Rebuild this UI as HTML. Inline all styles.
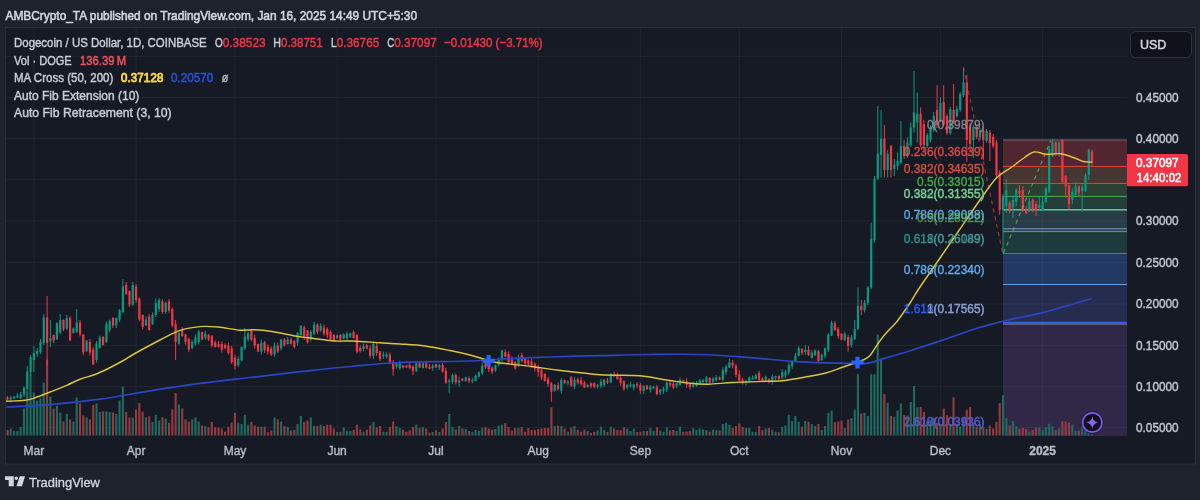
<!DOCTYPE html><html><head><meta charset="utf-8"><title>DOGEUSD</title><style>
html,body{margin:0;padding:0;background:#1e222d;}
body{width:1200px;height:500px;overflow:hidden;position:relative;font-family:"Liberation Sans",Arial,sans-serif;}
svg{position:absolute;left:0;top:0;display:block}
text{font-family:"Liberation Sans",Arial,sans-serif}
</style></head><body>
<svg width="1200" height="500" viewBox="0 0 1200 500">
<text x="5.5" y="19.6" font-size="13" fill="#d1d4dc" stroke="#d1d4dc" stroke-width="0.6" textLength="411.5" lengthAdjust="spacingAndGlyphs">AMBCrypto_TA published on TradingView.com, Jan 16, 2025 14:49 UTC+5:30</text>
<rect x="5.5" y="27.5" width="1190" height="436.5" fill="#161a25" stroke="#2a2e39" stroke-width="1"/>
<path d="M6 56.4H1127M6 97.6H1127M6 138.5H1127M6 179.6H1127M6 221H1127M6 262.4H1127M6 304H1127M6 345.4H1127M6 386.6H1127M6 427.6H1127M33.9 28V436M136.1 28V436M235 28V436M337.1 28V436M436 28V436M538.2 28V436M640.4 28V436M739.3 28V436M841.5 28V436M940.4 28V436M1042.6 28V436" stroke="#21252f" stroke-width="1" fill="none"/>
<rect x="1003" y="140" width="124" height="26.4" fill="#51262e"/>
<rect x="1003" y="166.4" width="124" height="17" fill="#463531"/>
<rect x="1003" y="183.4" width="124" height="13" fill="#2b3f33"/>
<rect x="1003" y="196.4" width="124" height="13.4" fill="#243f3a"/>
<rect x="1003" y="209.8" width="124" height="19" fill="#293d47"/>
<rect x="1003" y="228.8" width="124" height="2.8" fill="#2c4350"/>
<rect x="1003" y="231.6" width="124" height="21.9" fill="#1f3a3c"/>
<rect x="1003" y="253.5" width="124" height="31" fill="#223a63"/>
<rect x="1003" y="284.5" width="124" height="38.1" fill="#262c4e"/>
<rect x="1003" y="322.6" width="124" height="113.4" fill="#312848"/>
<path d="M1003 140H1127" stroke="#6a6d78" stroke-width="1"/>
<path d="M1003 166.4H1127" stroke="#e0483f" stroke-width="1"/>
<path d="M1003 183.4H1127" stroke="#d4503f" stroke-width="1"/>
<path d="M1003 196.4H1127" stroke="#4caf50" stroke-width="1"/>
<path d="M1003 209.8H1127" stroke="#5cc9a0" stroke-width="1.6"/>
<path d="M1003 228.8H1127" stroke="#6fa0c0" stroke-width="1"/>
<path d="M1003 231.6H1127" stroke="#7a9f3c" stroke-width="1"/>
<path d="M1003 253.5H1127" stroke="#139a90" stroke-width="1"/>
<path d="M1003 284.5H1127" stroke="#64a0e6" stroke-width="1"/>
<path d="M1003 322.3H1127" stroke="#3a5fe0" stroke-width="1.2"/>
<path d="M1003 324H1127" stroke="#8a87a0" stroke-width="1"/>
<path d="M1003 179.6H1127M1003 221H1127M1003 262.4H1127M1003 304H1127M1003 345.4H1127M1003 386.6H1127M1003 427.6H1127M1042.6 140V436" stroke="#ffffff" stroke-opacity="0.045" stroke-width="1" fill="none"/>
<path d="M9.7 428.6h2.1V435.6h-2.1zM13 431.1h2.1V435.6h-2.1zM16.3 431.1h2.1V435.6h-2.1zM19.6 426.9h2.1V435.6h-2.1zM22.9 408.6h2.1V435.6h-2.1zM26.2 390.6h2.1V435.6h-2.1zM29.5 374.6h2.1V435.6h-2.1zM32.8 392.6h2.1V435.6h-2.1zM36.1 400.6h2.1V435.6h-2.1zM39.4 398.6h2.1V435.6h-2.1zM42.7 382.6h2.1V435.6h-2.1zM49.3 396.6h2.1V435.6h-2.1zM55.9 406.1h2.1V435.6h-2.1zM59.2 412.6h2.1V435.6h-2.1zM65.8 413.9h2.1V435.6h-2.1zM72.4 421.6h2.1V435.6h-2.1zM75.7 397.6h2.1V435.6h-2.1zM85.6 417.6h2.1V435.6h-2.1zM95.5 403.6h2.1V435.6h-2.1zM98.8 411.9h2.1V435.6h-2.1zM105.3 411.6h2.1V435.6h-2.1zM108.6 411.9h2.1V435.6h-2.1zM115.2 413.9h2.1V435.6h-2.1zM118.5 400.6h2.1V435.6h-2.1zM121.8 386.6h2.1V435.6h-2.1zM131.7 417.6h2.1V435.6h-2.1zM144.9 417.3h2.1V435.6h-2.1zM151.5 421.9h2.1V435.6h-2.1zM154.8 414.8h2.1V435.6h-2.1zM158.1 420.6h2.1V435.6h-2.1zM164.7 418.6h2.1V435.6h-2.1zM177.9 404.6h2.1V435.6h-2.1zM191.1 419.6h2.1V435.6h-2.1zM194.4 417.6h2.1V435.6h-2.1zM197.6 421.6h2.1V435.6h-2.1zM204.2 426.1h2.1V435.6h-2.1zM237.2 422.8h2.1V435.6h-2.1zM240.5 423.9h2.1V435.6h-2.1zM243.8 414.8h2.1V435.6h-2.1zM247.1 424.8h2.1V435.6h-2.1zM260.3 426.8h2.1V435.6h-2.1zM273.5 417.6h2.1V435.6h-2.1zM280.1 421.4h2.1V435.6h-2.1zM286.7 426.8h2.1V435.6h-2.1zM296.5 423.9h2.1V435.6h-2.1zM299.8 416.1h2.1V435.6h-2.1zM309.7 417.6h2.1V435.6h-2.1zM313 426.1h2.1V435.6h-2.1zM319.6 424.8h2.1V435.6h-2.1zM336.1 431.9h2.1V435.6h-2.1zM342.7 427.8h2.1V435.6h-2.1zM346 430.9h2.1V435.6h-2.1zM349.3 430.9h2.1V435.6h-2.1zM362.5 431.8h2.1V435.6h-2.1zM372.4 421.9h2.1V435.6h-2.1zM382.3 431.8h2.1V435.6h-2.1zM385.5 431.8h2.1V435.6h-2.1zM395.4 425.9h2.1V435.6h-2.1zM398.7 428.1h2.1V435.6h-2.1zM415.2 424.8h2.1V435.6h-2.1zM421.8 427.3h2.1V435.6h-2.1zM431.7 431.9h2.1V435.6h-2.1zM438.3 431.9h2.1V435.6h-2.1zM448.2 413.9h2.1V435.6h-2.1zM451.5 426.9h2.1V435.6h-2.1zM458.1 426.1h2.1V435.6h-2.1zM464.7 428.9h2.1V435.6h-2.1zM471.3 431.8h2.1V435.6h-2.1zM474.6 430.1h2.1V435.6h-2.1zM477.8 430.9h2.1V435.6h-2.1zM481.1 427.8h2.1V435.6h-2.1zM494.3 428.9h2.1V435.6h-2.1zM497.6 425.6h2.1V435.6h-2.1zM500.9 424.8h2.1V435.6h-2.1zM517.4 428.1h2.1V435.6h-2.1zM553.7 426.1h2.1V435.6h-2.1zM560.3 426.1h2.1V435.6h-2.1zM566.9 431.8h2.1V435.6h-2.1zM573.4 426.1h2.1V435.6h-2.1zM586.6 431.1h2.1V435.6h-2.1zM596.5 430.6h2.1V435.6h-2.1zM599.8 426.8h2.1V435.6h-2.1zM603.1 430.1h2.1V435.6h-2.1zM609.7 426.8h2.1V435.6h-2.1zM626.2 428.6h2.1V435.6h-2.1zM629.5 430.9h2.1V435.6h-2.1zM632.8 428.6h2.1V435.6h-2.1zM642.7 430.9h2.1V435.6h-2.1zM649.3 427.8h2.1V435.6h-2.1zM652.6 430.9h2.1V435.6h-2.1zM659.2 430.6h2.1V435.6h-2.1zM662.5 431.8h2.1V435.6h-2.1zM665.8 427.3h2.1V435.6h-2.1zM675.6 430.9h2.1V435.6h-2.1zM678.9 426.8h2.1V435.6h-2.1zM692.1 428.1h2.1V435.6h-2.1zM695.4 430.1h2.1V435.6h-2.1zM698.7 428.6h2.1V435.6h-2.1zM702 429.4h2.1V435.6h-2.1zM705.3 430.1h2.1V435.6h-2.1zM711.9 429.4h2.1V435.6h-2.1zM715.2 430.1h2.1V435.6h-2.1zM721.8 423.9h2.1V435.6h-2.1zM725.1 422.8h2.1V435.6h-2.1zM728.4 424.8h2.1V435.6h-2.1zM744.9 428.1h2.1V435.6h-2.1zM748.2 428.1h2.1V435.6h-2.1zM751.5 431.8h2.1V435.6h-2.1zM754.8 431.8h2.1V435.6h-2.1zM764.6 428.6h2.1V435.6h-2.1zM771.2 429.8h2.1V435.6h-2.1zM774.5 431.8h2.1V435.6h-2.1zM781.1 426.9h2.1V435.6h-2.1zM784.4 425.6h2.1V435.6h-2.1zM787.7 414.8h2.1V435.6h-2.1zM791 420.9h2.1V435.6h-2.1zM794.3 416.1h2.1V435.6h-2.1zM797.6 421.8h2.1V435.6h-2.1zM804.2 420.9h2.1V435.6h-2.1zM810.8 423.9h2.1V435.6h-2.1zM814.1 426.1h2.1V435.6h-2.1zM820.7 430.1h2.1V435.6h-2.1zM824 426.1h2.1V435.6h-2.1zM827.3 412.8h2.1V435.6h-2.1zM830.6 410.6h2.1V435.6h-2.1zM843.8 428.1h2.1V435.6h-2.1zM850.4 418.1h2.1V435.6h-2.1zM853.7 409.8h2.1V435.6h-2.1zM856.9 374.3h2.1V435.6h-2.1zM863.5 412.8h2.1V435.6h-2.1zM866.8 415.9h2.1V435.6h-2.1zM870.1 374.3h2.1V435.6h-2.1zM873.4 374.3h2.1V435.6h-2.1zM876.7 334.6h2.1V435.6h-2.1zM880 358.6h2.1V435.6h-2.1zM886.6 402.8h2.1V435.6h-2.1zM893.2 416.8h2.1V435.6h-2.1zM896.5 410.6h2.1V435.6h-2.1zM899.8 403.4h2.1V435.6h-2.1zM906.4 415.6h2.1V435.6h-2.1zM909.7 401.9h2.1V435.6h-2.1zM913 385.9h2.1V435.6h-2.1zM916.3 407.3h2.1V435.6h-2.1zM926.2 420.6h2.1V435.6h-2.1zM929.5 421.4h2.1V435.6h-2.1zM932.8 417.8h2.1V435.6h-2.1zM939.4 423.9h2.1V435.6h-2.1zM949.2 423.9h2.1V435.6h-2.1zM955.8 423.9h2.1V435.6h-2.1zM959.1 426.6h2.1V435.6h-2.1zM962.4 418.1h2.1V435.6h-2.1zM972.3 423.1h2.1V435.6h-2.1zM978.9 423.9h2.1V435.6h-2.1zM985.5 428.9h2.1V435.6h-2.1zM1002 395h2.1V435.6h-2.1zM1005.3 418.1h2.1V435.6h-2.1zM1011.9 420.9h2.1V435.6h-2.1zM1015.2 426.2h2.1V435.6h-2.1zM1028.4 431.7h2.1V435.6h-2.1zM1038.3 427.5h2.1V435.6h-2.1zM1041.6 429.7h2.1V435.6h-2.1zM1044.8 426.9h2.1V435.6h-2.1zM1048.1 423.7h2.1V435.6h-2.1zM1051.4 426.2h2.1V435.6h-2.1zM1058 428.2h2.1V435.6h-2.1zM1071.2 424.8h2.1V435.6h-2.1zM1074.5 430.7h2.1V435.6h-2.1zM1081.1 427.2h2.1V435.6h-2.1zM1084.4 430h2.1V435.6h-2.1zM1087.7 433.6h2.1V435.6h-2.1z" fill="#1f6b60"/>
<path d="M6.5 430.1h2.1V435.6h-2.1zM46 359.6h2.1V435.6h-2.1zM52.6 408.6h2.1V435.6h-2.1zM62.5 421.6h2.1V435.6h-2.1zM69.1 419.6h2.1V435.6h-2.1zM79 403.6h2.1V435.6h-2.1zM82.3 415.6h2.1V435.6h-2.1zM88.9 419.6h2.1V435.6h-2.1zM92.2 405.1h2.1V435.6h-2.1zM102 411.6h2.1V435.6h-2.1zM111.9 412.6h2.1V435.6h-2.1zM125.1 411.9h2.1V435.6h-2.1zM128.4 417.6h2.1V435.6h-2.1zM135 409.6h2.1V435.6h-2.1zM138.3 403.1h2.1V435.6h-2.1zM141.6 411.6h2.1V435.6h-2.1zM148.2 416.6h2.1V435.6h-2.1zM161.4 417.6h2.1V435.6h-2.1zM168 422.8h2.1V435.6h-2.1zM171.3 409.6h2.1V435.6h-2.1zM174.6 393.1h2.1V435.6h-2.1zM181.2 408.6h2.1V435.6h-2.1zM184.5 419.3h2.1V435.6h-2.1zM187.8 421.6h2.1V435.6h-2.1zM200.9 425.6h2.1V435.6h-2.1zM207.5 427.3h2.1V435.6h-2.1zM210.8 421.9h2.1V435.6h-2.1zM214.1 427.3h2.1V435.6h-2.1zM217.4 427.8h2.1V435.6h-2.1zM220.7 428.4h2.1V435.6h-2.1zM224 431.8h2.1V435.6h-2.1zM227.3 426.8h2.1V435.6h-2.1zM230.6 422.6h2.1V435.6h-2.1zM233.9 413.1h2.1V435.6h-2.1zM250.4 421.9h2.1V435.6h-2.1zM253.7 425.6h2.1V435.6h-2.1zM257 426.8h2.1V435.6h-2.1zM263.6 426.8h2.1V435.6h-2.1zM266.9 432.3h2.1V435.6h-2.1zM270.2 430.6h2.1V435.6h-2.1zM276.8 419.3h2.1V435.6h-2.1zM283.4 426.1h2.1V435.6h-2.1zM289.9 430.6h2.1V435.6h-2.1zM293.2 430.1h2.1V435.6h-2.1zM303.1 421.9h2.1V435.6h-2.1zM306.4 420.6h2.1V435.6h-2.1zM316.3 426.1h2.1V435.6h-2.1zM322.9 426.1h2.1V435.6h-2.1zM326.2 424.8h2.1V435.6h-2.1zM329.5 424.8h2.1V435.6h-2.1zM332.8 428.6h2.1V435.6h-2.1zM339.4 431.8h2.1V435.6h-2.1zM352.6 430.1h2.1V435.6h-2.1zM355.9 424.8h2.1V435.6h-2.1zM359.2 429.4h2.1V435.6h-2.1zM365.8 429.8h2.1V435.6h-2.1zM369.1 425.6h2.1V435.6h-2.1zM375.7 427.3h2.1V435.6h-2.1zM379 425.9h2.1V435.6h-2.1zM388.8 426.9h2.1V435.6h-2.1zM392.1 421.4h2.1V435.6h-2.1zM402 429.4h2.1V435.6h-2.1zM405.3 431.8h2.1V435.6h-2.1zM408.6 430.6h2.1V435.6h-2.1zM411.9 426.9h2.1V435.6h-2.1zM418.5 428.1h2.1V435.6h-2.1zM425.1 428.6h2.1V435.6h-2.1zM428.4 432.6h2.1V435.6h-2.1zM435 430.6h2.1V435.6h-2.1zM441.6 428.6h2.1V435.6h-2.1zM444.9 421.9h2.1V435.6h-2.1zM454.8 429.4h2.1V435.6h-2.1zM461.4 428.6h2.1V435.6h-2.1zM468 430.9h2.1V435.6h-2.1zM484.4 427.3h2.1V435.6h-2.1zM487.7 428.6h2.1V435.6h-2.1zM491 429.8h2.1V435.6h-2.1zM504.2 423.1h2.1V435.6h-2.1zM507.5 426.9h2.1V435.6h-2.1zM510.8 430.6h2.1V435.6h-2.1zM514.1 428.1h2.1V435.6h-2.1zM520.7 426.9h2.1V435.6h-2.1zM524 431.8h2.1V435.6h-2.1zM527.3 428.1h2.1V435.6h-2.1zM530.6 430.1h2.1V435.6h-2.1zM533.9 430.1h2.1V435.6h-2.1zM537.2 428.9h2.1V435.6h-2.1zM540.5 428.6h2.1V435.6h-2.1zM543.8 428.1h2.1V435.6h-2.1zM547.1 428.1h2.1V435.6h-2.1zM550.4 407.3h2.1V435.6h-2.1zM557 425.6h2.1V435.6h-2.1zM563.6 428.6h2.1V435.6h-2.1zM570.2 427.8h2.1V435.6h-2.1zM576.7 430.1h2.1V435.6h-2.1zM580 431.8h2.1V435.6h-2.1zM583.3 429.4h2.1V435.6h-2.1zM589.9 432.8h2.1V435.6h-2.1zM593.2 431.8h2.1V435.6h-2.1zM606.4 431.9h2.1V435.6h-2.1zM613 428.6h2.1V435.6h-2.1zM616.3 430.1h2.1V435.6h-2.1zM619.6 430.1h2.1V435.6h-2.1zM622.9 427.3h2.1V435.6h-2.1zM636.1 431.9h2.1V435.6h-2.1zM639.4 431.8h2.1V435.6h-2.1zM646 430.9h2.1V435.6h-2.1zM655.9 427.3h2.1V435.6h-2.1zM669 430.6h2.1V435.6h-2.1zM672.3 430.1h2.1V435.6h-2.1zM682.2 431.8h2.1V435.6h-2.1zM685.5 431.4h2.1V435.6h-2.1zM688.8 430.9h2.1V435.6h-2.1zM708.6 431.8h2.1V435.6h-2.1zM718.5 430.6h2.1V435.6h-2.1zM731.7 428.1h2.1V435.6h-2.1zM735 426.1h2.1V435.6h-2.1zM738.3 423.6h2.1V435.6h-2.1zM741.6 426.9h2.1V435.6h-2.1zM758.1 426.1h2.1V435.6h-2.1zM761.3 430.1h2.1V435.6h-2.1zM767.9 428.1h2.1V435.6h-2.1zM777.8 432.3h2.1V435.6h-2.1zM800.9 426.8h2.1V435.6h-2.1zM807.5 421.8h2.1V435.6h-2.1zM817.4 423.9h2.1V435.6h-2.1zM833.9 422.3h2.1V435.6h-2.1zM837.2 421.4h2.1V435.6h-2.1zM840.5 420.6h2.1V435.6h-2.1zM847.1 419.4h2.1V435.6h-2.1zM860.2 413.4h2.1V435.6h-2.1zM883.3 393.9h2.1V435.6h-2.1zM889.9 415.9h2.1V435.6h-2.1zM903.1 415.1h2.1V435.6h-2.1zM919.6 406.8h2.1V435.6h-2.1zM922.9 411.9h2.1V435.6h-2.1zM936.1 423.1h2.1V435.6h-2.1zM942.7 408.6h2.1V435.6h-2.1zM946 415.3h2.1V435.6h-2.1zM952.5 397.3h2.1V435.6h-2.1zM965.7 409.8h2.1V435.6h-2.1zM969 406.9h2.1V435.6h-2.1zM975.6 426.6h2.1V435.6h-2.1zM982.2 427.3h2.1V435.6h-2.1zM988.8 425.6h2.1V435.6h-2.1zM992.1 428.6h2.1V435.6h-2.1zM995.4 421.9h2.1V435.6h-2.1zM998.7 403.1h2.1V435.6h-2.1zM1008.6 425.6h2.1V435.6h-2.1zM1018.5 428.9h2.1V435.6h-2.1zM1021.8 427.9h2.1V435.6h-2.1zM1025.1 428.9h2.1V435.6h-2.1zM1031.7 430h2.1V435.6h-2.1zM1035 427.5h2.1V435.6h-2.1zM1054.7 430h2.1V435.6h-2.1zM1061.3 421.6h2.1V435.6h-2.1zM1064.6 421.6h2.1V435.6h-2.1zM1067.9 422.7h2.1V435.6h-2.1zM1077.8 430.7h2.1V435.6h-2.1zM1091 434.6h2.1V435.6h-2.1z" fill="#973a3f"/>
<path d="M10.8 395.5V402.5M14.1 396V399M17.4 393V398M20.7 392V399M24 386.2V397.1M27.3 366V390M30.6 355V376M33.9 346V372M37.2 348V357M40.5 339V354M43.8 314V345M50.4 320V347M56.9 322.3V339.9M60.2 314V334M66.8 315V330M73.4 327.5V333.5M76.7 309V333M86.6 340V352M96.5 341.1V362.5M99.8 335.6V348.5M106.4 321.5V343M109.7 319.5V332M116.3 317.5V328M119.6 309V322M122.9 279V313M132.8 282V306M146 316.5V326M152.5 312.5V325M155.8 298.5V317M159.1 298V312M165.7 301.5V314M178.9 332V344.5M192.1 340V349.5M195.4 334.5V345.5M198.7 330V344.5M205.3 331V340M238.3 356.5V367M241.6 346.5V361.1M244.8 328V350M248.1 332V341.5M261.3 339.5V354.5M274.5 342.5V356.5M281.1 339V350.5M287.7 337V344.5M297.6 332V345.5M300.9 325V337M310.8 330V341.5M314.1 322V335M320.7 323.5V332M337.1 334.6V339M343.7 333.4V339.1M347 331.5V340.5M350.3 332.5V338M363.5 343.5V351.5M373.4 341.5V359M383.3 351.5V359M386.6 352.5V358.6M396.5 363.1V368.6M399.8 360.6V370M416.3 362.8V372.3M422.9 362.8V368.5M432.7 364V370.8M439.3 364V370M449.2 379V393.3M452.5 373.5V384.2M459.1 376.7V386.7M465.7 376.7V382M472.3 377.7V383.3M475.6 374.3V381.3M478.9 371.5V377.2M482.2 362.8V374.8M495.4 364.5V371.8M498.7 357.5V366.5M502 349.5V362.5M518.5 354.5V367M554.7 384V391.8M561.3 378.2V393.8M567.9 380.2V385.3M574.5 376.7V389.2M587.7 384V387.5M597.6 384V388.7M600.9 379.2V388.3M604.2 379.2V387M610.8 373V383M627.2 384V389.5M630.5 381.7V387.8M633.8 383.7V390.5M643.7 385.3V393.8M650.3 385V392.5M653.6 385.7V388.8M660.2 388.7V395M663.5 386.7V393.8M666.8 381.5V392.2M676.7 382.3V388.3M680 377.2V385.7M693.2 381.7V387.7M696.5 381V386.8M699.8 379.3V383.8M703.1 378.8V383M706.4 376V384.5M713 377.2V383.2M716.2 375V382M722.8 367.3V381.2M726.1 364.7V375M729.4 359V368M745.9 379.8V385.5M749.2 376.5V383.3M752.5 375.5V379.7M755.8 373.3V379.7M765.7 375.7V381.7M772.3 374.2V384.7M775.6 375.7V380.5M782.2 369.2V380M785.5 370V378M788.8 362.2V374.7M792.1 360V369M795.4 353V362M798.7 346.2V356.2M805.3 345V355M811.8 350.2V358.5M815.1 349.5V356M821.7 353.5V360.7M825 347.7V358.2M828.3 333V352M831.6 320.5V336M844.8 331.7V341.2M851.4 335V347.5M854.7 320V340M858 287.5V330M864.6 300V312.5M867.9 286V305M871.2 222.5V289M874.5 176V242.5M877.8 106V180M881.1 110V177.5M887.7 150V177.5M894.3 158.8V176M897.6 152.5V170M900.9 121V164M907.4 137.5V158M910.7 122.5V147M914 71V132.5M917.3 92.5V142.5M927.2 133V148M930.5 125V142M933.8 112V132M940.4 97V122M950.3 107V135M956.9 106V118M960.2 92V112M963.5 67.5V97M973.4 125V158M980 128V140M986.6 129V143M1003 194V253M1006.3 179V213M1012.9 197V218M1016.2 188V206M1029.4 198V212M1039.3 197V210M1042.6 197V211M1045.9 187V203M1049.2 146V193M1052.5 139V157M1059.1 141V157M1072.3 188V204M1075.6 182V196M1082.2 183V211.7M1085.5 173V192M1088.8 148.7V180" stroke="#089981" stroke-width="1" fill="none"/>
<path d="M7.5 396V400.5M47.1 296V365M53.7 334.5V343.1M63.5 319.5V331M70.1 316V341.1M80 320V336.5M83.3 334V355.1M89.9 339V355.6M93.2 347.1V365.1M103.1 336V345.5M113 317V328M126.2 282V295M129.5 290.5V307M136.1 284V303M139.4 297.5V321M142.7 314.5V329.5M149.2 314V330.5M162.4 299V314M169 299V312.5M172.3 307.5V327M175.6 320V360M182.2 327V337M185.5 334V344.5M188.8 337.5V352.1M202 331.5V340M208.6 334V341M211.9 335V347.5M215.2 340.5V347.5M218.5 341V347.5M221.8 341.5V352.5M225.1 343.5V349.5M228.4 342.5V354.5M231.7 346V364M235 355V369.6M251.4 329V341M254.7 335V348.5M258 343.5V352M264.6 341V353M267.9 344.5V354.5M271.2 346.5V356M277.8 342.5V353M284.4 338V346.5M291 337.5V344.5M294.3 340V348.5M304.2 325.5V340M307.5 330V343.5M317.4 323.5V334M324 324.5V335.5M327.3 327.5V338M330.6 330V340.5M333.9 334V341.5M340.4 334V342.5M353.6 330.5V338.5M356.9 334V353.5M360.2 345.5V352.5M366.8 344V349.5M370.1 345.5V358.5M376.7 343V356M380 351V361M389.9 352.5V364M393.2 360V375.6M403.1 365V368.5M406.4 365V368.2M409.7 363V369.3M413 365V375M419.6 360.8V368M426.2 360.8V368.5M429.5 364.2V369.2M436 363.7V368M442.6 363V372.7M445.9 367.8V384M455.8 373.5V384.5M462.4 378.2V381.3M469 376.3V383.3M485.5 360.3V369M488.8 363.8V372.2M492.1 366.5V374.2M505.3 349.5V357M508.6 351.5V364M511.9 356.5V364.5M515.2 361V369.7M521.8 352.5V362.5M525.1 357.6V365M528.3 359.5V366.5M531.6 359.1V368M534.9 362.5V371.5M538.2 365V376.7M541.5 369V380M544.8 373V381.8M548.1 377V387M551.4 382V401.7M558 382.5V391M564.6 379.5V383.8M571.2 376V386.8M577.8 377.7V384.5M581.1 377.3V385.7M584.4 381V388M591 382.3V388.3M594.3 382.3V388.2M607.5 377.8V384M614.1 371.7V376.8M617.4 372.8V379.7M620.6 376V386M623.9 380.3V390.7M637.1 382.2V387.8M640.4 383V393.8M647 384.8V390.2M656.9 385V395.3M670.1 380.5V387M673.4 380.7V389M683.3 379.8V383M686.6 378.3V387.7M689.9 383.2V389.5M709.7 377V385M719.5 376.5V380.2M732.7 360V368.3M736 363.8V377.2M739.3 370V381.7M742.6 378V384.7M759.1 370.8V380.5M762.4 377.3V381.8M769 378V383.7M778.9 375.5V380.5M802 348V355M808.5 346V356M818.4 350V362.5M834.9 321V331M838.2 327V338.5M841.5 333.2V340.2M848.1 335V351.7M861.3 300V315M884.4 125V177.5M891 145V177.5M904.1 140V159M920.6 107.5V147M923.9 120V150M937.1 85V128M943.7 85V126M947 114V135M953.6 84V124M966.8 75V162M970.1 123V152M976.7 125V139M983.3 127V160M989.9 130V161M993.2 134V148M996.5 140V177M999.7 170V215M1009.6 201V213M1019.5 185V198M1022.8 186V212M1026.1 206V214M1032.7 198V212M1036 201V216M1055.8 141V156M1062.4 139V183M1065.7 175V198M1069 184V209.6M1078.9 185V197M1092 149.5V165.8" stroke="#f23645" stroke-width="1" fill="none"/>
<path d="M9.7 397.5h2.2v2h-2.2zM13 396.5h2.2v2h-2.2zM16.3 395.5h2.2v2h-2.2zM19.6 394.6h2.2v3.4h-2.2zM22.9 387.7h2.2v6.9h-2.2zM26.2 371.6h2.2v17.3h-2.2zM29.5 357h2.2v15h-2.2zM32.8 353h2.2v7h-2.2zM36.1 351h2.2v3h-2.2zM39.4 341.7h2.2v10.3h-2.2zM42.7 317.6h2.2v25.4h-2.2zM49.3 338h2.2v3.5h-2.2zM55.8 323.3h2.2v16.1h-2.2zM59.1 320h2.2v12.6h-2.2zM65.7 318h2.2v10.5h-2.2zM72.3 328.5h2.2v4.5h-2.2zM75.6 322.5h2.2v9h-2.2zM85.5 340.5h2.2v10.5h-2.2zM95.4 343.6h2.2v16.4h-2.2zM98.7 337.6h2.2v10.4h-2.2zM105.3 324h2.2v18h-2.2zM108.6 321h2.2v9h-2.2zM115.2 318h2.2v7.5h-2.2zM118.5 310.5h2.2v9h-2.2zM121.8 286.5h2.2v25.5h-2.2zM131.7 285h2.2v19.5h-2.2zM144.9 319.5h2.2v6h-2.2zM151.4 315h2.2v9h-2.2zM154.7 303h2.2v12h-2.2zM158 300h2.2v9h-2.2zM164.6 303h2.2v9h-2.2zM177.8 333h2.2v10.5h-2.2zM191 342h2.2v6h-2.2zM194.3 337.5h2.2v6h-2.2zM197.6 331.5h2.2v10.5h-2.2zM204.2 333.5h2.2v4.5h-2.2zM237.2 359h2.2v6h-2.2zM240.5 347h2.2v13.6h-2.2zM243.7 336.5h2.2v12h-2.2zM247 333.5h2.2v6h-2.2zM260.2 342.5h2.2v9h-2.2zM273.4 345.5h2.2v9h-2.2zM280 339.5h2.2v9h-2.2zM286.6 339.5h2.2v4.5h-2.2zM296.5 333h2.2v9.5h-2.2zM299.8 326h2.2v9h-2.2zM309.7 332h2.2v7.5h-2.2zM313 324.5h2.2v9h-2.2zM319.6 326h2.2v4.5h-2.2zM336 335.6h2.2v2.4h-2.2zM342.6 334.4h2.2v4.2h-2.2zM345.9 333.5h2.2v4.5h-2.2zM349.2 333.5h2.2v3h-2.2zM362.4 346h2.2v3h-2.2zM372.3 344h2.2v12h-2.2zM382.2 354.5h2.2v2h-2.2zM385.5 354.5h2.2v2.1h-2.2zM395.4 363.6h2.2v3h-2.2zM398.7 363.6h2.2v4.4h-2.2zM415.2 363.3h2.2v7.5h-2.2zM421.8 363.3h2.2v4.7h-2.2zM431.6 365.5h2.2v2.8h-2.2zM438.2 365h2.2v2.5h-2.2zM448.1 380.8h2.2v1.2h-2.2zM451.4 375h2.2v6.7h-2.2zM458 380.8h2.2v1.7h-2.2zM464.6 377.5h2.2v3.3h-2.2zM471.2 379.7h2.2v1.6h-2.2zM474.5 375.8h2.2v5h-2.2zM477.8 372.5h2.2v4.2h-2.2zM481.1 365.8h2.2v7.5h-2.2zM494.3 365h2.2v5.8h-2.2zM497.6 360h2.2v5h-2.2zM500.9 350.5h2.2v9h-2.2zM517.4 357.5h2.2v8h-2.2zM553.6 385h2.2v5.8h-2.2zM560.2 379.7h2.2v11.1h-2.2zM566.8 381.7h2.2v1.6h-2.2zM573.4 379.7h2.2v7h-2.2zM586.6 385h2.2v2h-2.2zM596.5 385h2.2v1.7h-2.2zM599.8 381.7h2.2v4.1h-2.2zM603.1 379.7h2.2v5.3h-2.2zM609.7 374.2h2.2v8.3h-2.2zM626.1 385h2.2v2.5h-2.2zM629.4 384.7h2.2v1.6h-2.2zM632.7 384.2h2.2v3.3h-2.2zM642.6 385.8h2.2v5h-2.2zM649.2 386.7h2.2v3.3h-2.2zM652.5 386.7h2.2v1.6h-2.2zM659.1 389.7h2.2v2.8h-2.2zM662.4 388.7h2.2v2.1h-2.2zM665.7 382.5h2.2v7.2h-2.2zM675.6 383.3h2.2v2.5h-2.2zM678.9 379.7h2.2v5h-2.2zM692.1 384.7h2.2v2h-2.2zM695.4 383h2.2v2.8h-2.2zM698.7 380.3h2.2v3h-2.2zM702 380.3h2.2v1.7h-2.2zM705.3 377.5h2.2v4.5h-2.2zM711.9 378.7h2.2v3h-2.2zM715.1 377.5h2.2v2.5h-2.2zM721.7 370.3h2.2v9.4h-2.2zM725 366.7h2.2v5.3h-2.2zM728.3 362.5h2.2v5h-2.2zM744.8 380.8h2.2v2.2h-2.2zM748.1 377.5h2.2v3.3h-2.2zM751.4 378h2.2v1.2h-2.2zM754.7 375.3h2.2v3.4h-2.2zM764.6 376.7h2.2v3h-2.2zM771.2 376.7h2.2v5h-2.2zM774.5 376.2h2.2v1.8h-2.2zM781.1 372.2h2.2v5.3h-2.2zM784.4 371.7h2.2v3.3h-2.2zM787.7 364.7h2.2v7.5h-2.2zM791 361h2.2v5.2h-2.2zM794.3 355.7h2.2v5.3h-2.2zM797.6 348.2h2.2v7.5h-2.2zM804.2 349.7h2.2v2.3h-2.2zM810.7 352.7h2.2v5.3h-2.2zM814 350.5h2.2v4.5h-2.2zM820.6 355h2.2v5.2h-2.2zM823.9 348.2h2.2v7.5h-2.2zM827.2 334.7h2.2v15h-2.2zM830.5 322.7h2.2v12.8h-2.2zM843.7 333.7h2.2v6h-2.2zM850.3 337.5h2.2v7.5h-2.2zM853.6 329h2.2v10h-2.2zM856.9 306h2.2v23h-2.2zM863.5 302.5h2.2v7.5h-2.2zM866.8 287.5h2.2v15h-2.2zM870.1 238.7h2.2v48.8h-2.2zM873.4 178.7h2.2v61.3h-2.2zM876.7 153.7h2.2v25h-2.2zM880 138.7h2.2v16.3h-2.2zM886.6 153.7h2.2v16.3h-2.2zM893.2 165h2.2v3.8h-2.2zM896.5 161h2.2v5h-2.2zM899.8 146h2.2v16.5h-2.2zM906.3 142.5h2.2v13.5h-2.2zM909.6 127.5h2.2v17.5h-2.2zM912.9 112.5h2.2v15h-2.2zM916.2 113.8h2.2v8.8h-2.2zM926.1 135h2.2v11h-2.2zM929.4 127.5h2.2v12.5h-2.2zM932.7 116h2.2v14h-2.2zM939.3 103h2.2v17h-2.2zM949.2 109h2.2v24h-2.2zM955.8 108.8h2.2v7.2h-2.2zM959.1 94h2.2v16h-2.2zM962.4 82.5h2.2v12.5h-2.2zM972.3 127h2.2v13h-2.2zM978.9 130h2.2v7.5h-2.2zM985.5 131h2.2v10h-2.2zM1001.9 196h2.2v14h-2.2zM1005.2 190h2.2v16h-2.2zM1011.8 200h2.2v7.5h-2.2zM1015.1 190h2.2v12h-2.2zM1028.3 201h2.2v9.6h-2.2zM1038.2 205h2.2v3h-2.2zM1041.5 202h2.2v7.6h-2.2zM1044.8 188.6h2.2v13.4h-2.2zM1048.1 148.7h2.2v43h-2.2zM1051.4 141.3h2.2v14.7h-2.2zM1058 142.4h2.2v11.6h-2.2zM1071.2 191.7h2.2v8.3h-2.2zM1074.5 186.5h2.2v8.5h-2.2zM1081.1 187h2.2v4h-2.2zM1084.4 175h2.2v15.7h-2.2zM1087.7 149.7h2.2v25.3h-2.2z" fill="#089981"/>
<path d="M6.4 397.5h2.2v2h-2.2zM46 317.6h2.2v25.4h-2.2zM52.6 335h2.2v5.6h-2.2zM62.4 320h2.2v9h-2.2zM69 318h2.2v22.6h-2.2zM78.9 322.5h2.2v12h-2.2zM82.2 334.5h2.2v18.1h-2.2zM88.8 342h2.2v10.6h-2.2zM92.1 349.6h2.2v15h-2.2zM102 337h2.2v8h-2.2zM111.9 318h2.2v7.5h-2.2zM125.1 285h2.2v9h-2.2zM128.4 291h2.2v13.5h-2.2zM135 286.5h2.2v13.5h-2.2zM138.3 298.5h2.2v21h-2.2zM141.6 315h2.2v12h-2.2zM148.1 316.5h2.2v13.5h-2.2zM161.3 301.5h2.2v10.5h-2.2zM167.9 301.5h2.2v9h-2.2zM171.2 309h2.2v16.5h-2.2zM174.5 324h2.2v18h-2.2zM181.1 330h2.2v6h-2.2zM184.4 334.5h2.2v7.5h-2.2zM187.7 339h2.2v10.6h-2.2zM200.9 332h2.2v7.5h-2.2zM207.5 335h2.2v4.5h-2.2zM210.8 336h2.2v9.5h-2.2zM214.1 342.5h2.2v4.5h-2.2zM217.4 344h2.2v3h-2.2zM220.7 344h2.2v6h-2.2zM224 345h2.2v3h-2.2zM227.3 345.5h2.2v7.5h-2.2zM230.6 348.5h2.2v13.5h-2.2zM233.9 357.5h2.2v8.5h-2.2zM250.3 330.5h2.2v9h-2.2zM253.6 338h2.2v7.5h-2.2zM256.9 344h2.2v7.5h-2.2zM263.5 342.5h2.2v7.5h-2.2zM266.8 347h2.2v4.5h-2.2zM270.1 348.5h2.2v6h-2.2zM276.7 345.5h2.2v6h-2.2zM283.3 339.5h2.2v6h-2.2zM289.9 339.5h2.2v4.5h-2.2zM293.2 341h2.2v6h-2.2zM303.1 327.5h2.2v10.5h-2.2zM306.4 330.5h2.2v12h-2.2zM316.3 324.5h2.2v7.5h-2.2zM322.9 327.5h2.2v6h-2.2zM326.2 329h2.2v6h-2.2zM329.5 332h2.2v7.5h-2.2zM332.8 335h2.2v6h-2.2zM339.3 335h2.2v4.5h-2.2zM352.5 332h2.2v6h-2.2zM355.8 335h2.2v16.5h-2.2zM359.1 348h2.2v3h-2.2zM365.7 345.5h2.2v3h-2.2zM369 348.5h2.2v7.5h-2.2zM375.6 346h2.2v7h-2.2zM378.9 351.5h2.2v7.5h-2.2zM388.8 354.5h2.2v7.5h-2.2zM392.1 362h2.2v7.6h-2.2zM402 365.5h2.2v2h-2.2zM405.3 365.5h2.2v1.7h-2.2zM408.6 365h2.2v3.3h-2.2zM411.9 366.7h2.2v4.1h-2.2zM418.5 363.3h2.2v4.2h-2.2zM425.1 363.3h2.2v4.2h-2.2zM428.4 366.7h2.2v2h-2.2zM434.9 364.2h2.2v3.3h-2.2zM441.5 365h2.2v6.7h-2.2zM444.8 370.8h2.2v11.7h-2.2zM454.7 375h2.2v7.5h-2.2zM461.3 378.7h2.2v2.1h-2.2zM467.9 378.3h2.2v3h-2.2zM484.4 363.3h2.2v4.2h-2.2zM487.7 365.8h2.2v3.4h-2.2zM491 367.5h2.2v4.2h-2.2zM504.2 352h2.2v4.5h-2.2zM507.5 354h2.2v8.5h-2.2zM510.8 359.5h2.2v4.5h-2.2zM514.1 362.5h2.2v6h-2.2zM520.7 355h2.2v6h-2.2zM524 358.6h2.2v4.9h-2.2zM527.2 360.5h2.2v3.5h-2.2zM530.5 361.6h2.2v3.9h-2.2zM533.8 364h2.2v4.5h-2.2zM537.1 367h2.2v5h-2.2zM540.4 370h2.2v7.5h-2.2zM543.7 374h2.2v6.8h-2.2zM547 379h2.2v5h-2.2zM550.3 383.3h2.2v8.4h-2.2zM556.9 385h2.2v4h-2.2zM563.5 380h2.2v3.3h-2.2zM570.1 377.5h2.2v8.3h-2.2zM576.7 379.2h2.2v3.3h-2.2zM580 380.3h2.2v3.9h-2.2zM583.3 382.5h2.2v5h-2.2zM589.9 383.3h2.2v3h-2.2zM593.2 383.3h2.2v3.4h-2.2zM606.4 380.8h2.2v1.7h-2.2zM613 374.7h2.2v1.6h-2.2zM616.3 375.8h2.2v3.4h-2.2zM619.5 378h2.2v5h-2.2zM622.8 381.3h2.2v7.4h-2.2zM636 384.2h2.2v1.6h-2.2zM639.3 385h2.2v5.8h-2.2zM645.9 385.8h2.2v3.4h-2.2zM655.8 386.7h2.2v7.5h-2.2zM669 383h2.2v2h-2.2zM672.3 383.7h2.2v3.8h-2.2zM682.2 380.3h2.2v2.2h-2.2zM685.5 381.3h2.2v3.4h-2.2zM688.8 383.7h2.2v3.3h-2.2zM708.6 378h2.2v4.5h-2.2zM718.4 377.5h2.2v2.2h-2.2zM731.6 362.5h2.2v3.3h-2.2zM734.9 365.8h2.2v8.9h-2.2zM738.2 374.2h2.2v6.6h-2.2zM741.5 379.7h2.2v3.6h-2.2zM758 373.3h2.2v6.7h-2.2zM761.3 378.3h2.2v2.5h-2.2zM767.9 379.2h2.2v2.8h-2.2zM777.8 376h2.2v3h-2.2zM800.9 349h2.2v3.7h-2.2zM807.4 349.7h2.2v5.3h-2.2zM817.3 351.2h2.2v9.8h-2.2zM833.8 323h2.2v7h-2.2zM837.1 329h2.2v7h-2.2zM840.4 333.7h2.2v6h-2.2zM847 337h2.2v8.7h-2.2zM860.2 306h2.2v4h-2.2zM883.3 138.7h2.2v31.3h-2.2zM889.9 146h2.2v24h-2.2zM903 146h2.2v10h-2.2zM919.5 113.8h2.2v31.2h-2.2zM922.8 124h2.2v21h-2.2zM936 110h2.2v15h-2.2zM942.6 102h2.2v22.5h-2.2zM945.9 116h2.2v17h-2.2zM952.5 110h2.2v12h-2.2zM965.7 82.5h2.2v57.5h-2.2zM969 127h2.2v17h-2.2zM975.6 127.5h2.2v9.5h-2.2zM982.2 130.4h2.2v9.4h-2.2zM988.8 132.5h2.2v10.5h-2.2zM992.1 136.7h2.2v9.3h-2.2zM995.4 142.5h2.2v32.5h-2.2zM998.6 172.5h2.2v37.5h-2.2zM1008.5 203h2.2v7.6h-2.2zM1018.4 190.7h2.2v3.3h-2.2zM1021.7 190h2.2v20.6h-2.2zM1025 209.6h2.2v3.1h-2.2zM1031.6 200h2.2v10.6h-2.2zM1034.9 204h2.2v6h-2.2zM1054.7 142.4h2.2v10.5h-2.2zM1061.3 140h2.2v42.3h-2.2zM1064.6 176h2.2v10.5h-2.2zM1067.9 185.4h2.2v18.9h-2.2zM1077.8 186.5h2.2v6.3h-2.2zM1090.9 151.4h2.2v11.8h-2.2z" fill="#f23645"/>
<path d="M963.5 67.5L1002.5 252.5" stroke="#f23645" stroke-width="1.2" stroke-dasharray="4 4" fill="none" opacity="0.7"/>
<path d="M1003.5 253L1050.5 141" stroke="#66bb6a" stroke-width="1.2" stroke-dasharray="4 4" fill="none" opacity="0.75"/>
<path d="M6 407C13.3 406.6 34.3 406 50 404.7C65.7 403.4 83.3 401.5 100 399.2C116.7 396.9 133.3 393.4 150 390.8C166.7 388.2 183.3 385.5 200 383.3C216.7 381.1 233.3 379.4 250 377.5C266.7 375.6 283.3 373.5 300 371.7C316.7 369.9 333.3 368 350 366.5C366.7 365 383.3 363.3 400 362.5C416.7 361.7 436.2 361.8 450 361.5C463.8 361.2 474.7 360.9 483 360.5C491.3 360.1 488.8 359.6 500 359C511.2 358.4 533.3 357.6 550 357C566.7 356.4 583.3 356 600 355.6C616.7 355.2 633.3 354.7 650 354.5C666.7 354.3 683.3 354 700 354.5C716.7 355 733.3 356.4 750 357.6C766.7 358.8 783.3 360.9 800 361.8C816.7 362.8 839.3 363 850 363.3C860.7 363.6 860.7 363.7 864 363.6C867.3 363.5 867.2 363.5 870 362.8C872.8 362.1 874.1 361.6 880.8 359.6C887.5 357.6 900.1 353.9 910 350.8C919.9 347.7 929.7 344.5 940.4 340.9C951.1 337.3 964.4 332.3 974 329.2C983.6 326.1 992 324.1 998 322.5C1004 320.9 1002.4 321.3 1010 319.6C1017.6 317.9 1029.8 315.9 1043.4 312.4C1057 308.9 1083.7 300.8 1091.8 298.5" stroke="#2a46c4" stroke-width="1.7" fill="none"/>
<path d="M6 401.3C9.2 401.1 20.2 400.9 25 400.3C29.8 399.7 30.8 399.2 35 397.8C39.2 396.4 44.7 394.1 50 392C55.3 389.9 61.7 387.4 66.7 385.3C71.7 383.2 75.3 381.1 80 379.3C84.7 377.5 90.3 376.3 95 374.5C99.7 372.7 103.6 370.8 108.3 368.5C113 366.2 119 362.9 123.3 360.5C127.6 358.1 127.9 357.4 134 354C140.1 350.6 152.3 343.9 160 340C167.7 336.1 173.3 332.6 180 330.4C186.7 328.2 193.7 327.2 200 326.6C206.3 326 211.3 326.4 218 327C224.7 327.6 234 329.8 240 330.2C246 330.6 248.7 329.5 254 329.7C259.3 329.9 265.2 330.4 272 331.5C278.8 332.6 289 334.9 295 336C301 337.1 301.3 337 308 337.8C314.7 338.6 327.5 340.5 335 341C342.5 341.5 345.5 340.7 353 341C360.5 341.3 372.2 342.3 380 342.8C387.8 343.3 392.5 343.5 400 344C407.5 344.5 416.7 344.9 425 346C433.3 347.1 442.5 349 450 350.5C457.5 352 464.2 353.5 470 355C475.8 356.5 480.6 358.2 485 359.5C489.4 360.8 488.6 361.3 496.7 362.5C504.8 363.7 523 365.4 533.3 366.7C543.6 368 547.2 369 558.3 370.3C569.4 371.6 586.4 373.8 600 374.7C613.6 375.6 628.9 374.9 640 375.8C651.1 376.7 658.4 378.8 666.7 380C675 381.2 683.1 382.6 690 383.3C696.9 384 700.8 384.3 708 384.2C715.2 384.1 723.2 383 733 382.5C742.8 382 758.4 381.6 766.7 381.3C775 381 777.5 381.4 783 380.8C788.5 380.2 793 379.2 800 378C807 376.8 818 375.1 825 373.3C832 371.6 836.7 369.2 841.7 367.5C846.7 365.8 851.5 364.2 855 363C858.5 361.8 860.5 361.2 863 360C865.5 358.8 867.2 358.7 870 355.6C872.8 352.5 876.6 345.3 879.6 341.2C882.6 337.1 885.1 334.3 888 331C890.9 327.7 893.5 325.9 897.2 321.2C900.9 316.5 906.5 308.2 910 303C913.5 297.8 915.5 293.8 918 290C920.5 286.2 921.1 285.3 924.8 280C928.5 274.7 934.1 266.5 940 258C945.9 249.5 952.8 239.5 960 229C967.2 218.5 977.6 203.2 983.4 195C989.2 186.8 992.2 182.8 995 179.5C997.8 176.2 997.1 177.2 1000 175C1002.9 172.8 1009.1 169 1012.6 166.5C1016.1 164 1017.4 162.4 1021 160C1024.6 157.6 1029.8 152.9 1034 152C1038.2 151.1 1041.5 154 1046 154.3C1050.5 154.6 1056 153.1 1061 153.8C1066 154.5 1072.3 157.2 1076 158.5C1079.7 159.8 1080.3 160.9 1083 161.5C1085.7 162.1 1090.5 161.9 1092 162" stroke="#dcc43a" stroke-width="1.45" fill="none"/>
<path d="M482.5 358.8h12.3v4h-12.3z M486.5 354.9h4.2v11.7h-4.2z" fill="#2962ff"/>
<path d="M851.4 360.6h12.3v4h-12.3z M855.4 356.8h4.2v11.7h-4.2z" fill="#2962ff"/>
<text x="984.5" y="129.4" font-size="11.9" fill="#9598a1" stroke="#9598a1" stroke-width="0.35" opacity="0.85" text-anchor="end">0(0.39879)</text>
<text x="984.5" y="155.8" font-size="11.9" fill="#f2504a" stroke="#f2504a" stroke-width="0.35" opacity="0.9" text-anchor="end">0.236(0.36639)</text>
<text x="984.5" y="172.8" font-size="11.9" fill="#f0573f" stroke="#f0573f" stroke-width="0.35" opacity="0.9" text-anchor="end">0.382(0.34635)</text>
<text x="984.5" y="186.4" font-size="11.9" fill="#4caf50" stroke="#4caf50" stroke-width="0.35" opacity="0.95" text-anchor="end">0.5(0.33015)</text>
<text x="984.5" y="198.2" font-size="11.9" fill="#089981" stroke="#089981" stroke-width="0.35" opacity="0.55" text-anchor="end">0.618(0.31355)</text>
<text x="984.5" y="198.2" font-size="11.9" fill="#8fd493" stroke="#8fd493" stroke-width="0.35" opacity="0.9" text-anchor="end">0.382(0.31355)</text>
<text x="984.5" y="218.8" font-size="11.9" fill="#64b5f6" stroke="#64b5f6" stroke-width="0.35" opacity="0.9" text-anchor="end">0.786(0.29088)</text>
<text x="984.5" y="222.2" font-size="11.9" fill="#5cb860" stroke="#5cb860" stroke-width="0.35" opacity="0.75" text-anchor="end">0.5(0.28922)</text>
<text x="984.5" y="243.1" font-size="11.9" fill="#26a69a" stroke="#26a69a" stroke-width="0.35" opacity="0.9" text-anchor="end">0.618(0.26089)</text>
<text x="984.5" y="243.1" font-size="11.9" fill="#9598a1" stroke="#9598a1" stroke-width="0.35" opacity="0.35" text-anchor="end">1(0.26149)</text>
<text x="984.5" y="274" font-size="11.9" fill="#64b5f6" stroke="#64b5f6" stroke-width="0.35" opacity="0.95" text-anchor="end">0.786(0.22340)</text>
<text x="984.5" y="312.6" font-size="11.9" fill="#2962ff" stroke="#2962ff" stroke-width="0.35" opacity="0.95" text-anchor="end">1.618(0.17565)</text>
<text x="984.5" y="312.6" font-size="11.9" fill="#a3a6af" stroke="#a3a6af" stroke-width="0.35" opacity="0.85" text-anchor="end">1(0.17565)</text>
<text x="984.5" y="426.2" font-size="11.9" fill="#f23645" stroke="#f23645" stroke-width="0.35" opacity="0.75" text-anchor="end">2.618(0.03936)</text>
<text x="984.5" y="426.2" font-size="11.9" fill="#2962ff" stroke="#2962ff" stroke-width="0.35" opacity="0.85" text-anchor="end">1.618(0.03936)</text>
<g font-size="13" fill="#d1d4dc" stroke-width="0.45">
<text x="14" y="47.3" fill="#c9ccd4" stroke="#c9ccd4" textLength="192.7" lengthAdjust="spacingAndGlyphs">Dogecoin / US Dollar, 1D, COINBASE</text>
<text x="215" y="47.3" fill="#c9ccd4" stroke="#c9ccd4" textLength="7.7" lengthAdjust="spacingAndGlyphs">O</text>
<text x="222.7" y="47.3" fill="#f23645" stroke="#f23645" textLength="43" lengthAdjust="spacingAndGlyphs">0.38523</text>
<text x="273.3" y="47.3" fill="#c9ccd4" stroke="#c9ccd4" textLength="7.7" lengthAdjust="spacingAndGlyphs">H</text>
<text x="281" y="47.3" fill="#f23645" stroke="#f23645" textLength="41.7" lengthAdjust="spacingAndGlyphs">0.38751</text>
<text x="331" y="47.3" fill="#c9ccd4" stroke="#c9ccd4" textLength="5.7" lengthAdjust="spacingAndGlyphs">L</text>
<text x="336.7" y="47.3" fill="#f23645" stroke="#f23645" textLength="42.6" lengthAdjust="spacingAndGlyphs">0.36765</text>
<text x="387.3" y="47.3" fill="#c9ccd4" stroke="#c9ccd4" textLength="7" lengthAdjust="spacingAndGlyphs">C</text>
<text x="394.3" y="47.3" fill="#f23645" stroke="#f23645" textLength="42.4" lengthAdjust="spacingAndGlyphs">0.37097</text>
<text x="444" y="47.3" fill="#f23645" stroke="#f23645" textLength="98.7" lengthAdjust="spacingAndGlyphs">−0.01430 (−3.71%)</text>
<text x="14" y="65" fill="#c9ccd4" stroke="#c9ccd4" textLength="57.7" lengthAdjust="spacingAndGlyphs">Vol · DOGE</text>
<text x="80" y="65" fill="#f7525f" stroke="#f7525f" textLength="46" lengthAdjust="spacingAndGlyphs">136.39 M</text>
<text x="14" y="82.3" fill="#c9ccd4" stroke="#c9ccd4" textLength="99.3" lengthAdjust="spacingAndGlyphs">MA Cross (50, 200)</text>
<text x="120.7" y="82.3" fill="#f5d53c" stroke="#f5d53c" textLength="42.6" lengthAdjust="spacingAndGlyphs">0.37128</text>
<text x="120.9" y="82.3" fill="#f5d53c" stroke="#f5d53c" textLength="42.6" lengthAdjust="spacingAndGlyphs">0.37128</text>
<text x="171" y="82.3" fill="#2a52e0" stroke="#2a52e0" textLength="42.3" lengthAdjust="spacingAndGlyphs">0.20570</text>
<text x="221.7" y="82.3" fill="#b2b5be" stroke="#b2b5be" textLength="6.6" lengthAdjust="spacingAndGlyphs">ø</text>
<text x="14" y="100" fill="#c9ccd4" stroke="#c9ccd4" textLength="125.3" lengthAdjust="spacingAndGlyphs">Auto Fib Extension (10)</text>
<text x="14" y="117.3" fill="#c9ccd4" stroke="#c9ccd4" textLength="157.7" lengthAdjust="spacingAndGlyphs">Auto Fib Retracement (3, 10)</text>
</g>
<rect x="1130.5" y="31.5" width="61" height="26" rx="5" fill="#0f121b" stroke="#2f333e"/>
<text x="1140" y="49" font-size="12.5" fill="#d1d4dc" stroke="#d1d4dc" stroke-width="0.5">USD</text>
<g font-size="12" fill="#c3c6ce" stroke="#c3c6ce" stroke-width="0.4">
<text x="1136" y="102" textLength="42.6" lengthAdjust="spacingAndGlyphs">0.45000</text>
<text x="1136" y="142.9" textLength="42.6" lengthAdjust="spacingAndGlyphs">0.40000</text>
<text x="1136" y="225.4" textLength="42.6" lengthAdjust="spacingAndGlyphs">0.30000</text>
<text x="1136" y="266.8" textLength="42.6" lengthAdjust="spacingAndGlyphs">0.25000</text>
<text x="1136" y="308.4" textLength="42.6" lengthAdjust="spacingAndGlyphs">0.20000</text>
<text x="1136" y="349.8" textLength="42.6" lengthAdjust="spacingAndGlyphs">0.15000</text>
<text x="1136" y="391" textLength="42.6" lengthAdjust="spacingAndGlyphs">0.10000</text>
<text x="1136" y="432" textLength="42.6" lengthAdjust="spacingAndGlyphs">0.05000</text>
</g>
<path d="M1127 154H1186a2 2 0 0 1 2 2V184.2a2 2 0 0 1-2 2H1127z" fill="#f23645"/>
<text x="1136" y="167" font-size="12" fill="#ffffff" stroke="#ffffff" stroke-width="0.55" textLength="42.6" lengthAdjust="spacingAndGlyphs">0.37097</text>
<text x="1136.5" y="181.8" font-size="12" fill="#ffffff" stroke="#ffffff" stroke-width="0.55" textLength="45" lengthAdjust="spacingAndGlyphs">14:40:02</text>
<g font-size="12" fill="#b8bbc3" stroke="#b8bbc3" stroke-width="0.4" text-anchor="middle">
<text x="33.9" y="455">Mar</text>
<text x="136.1" y="455">Apr</text>
<text x="235" y="455">May</text>
<text x="337.1" y="455">Jun</text>
<text x="436" y="455">Jul</text>
<text x="538.2" y="455">Aug</text>
<text x="640.4" y="455">Sep</text>
<text x="739.3" y="455">Oct</text>
<text x="841.5" y="455">Nov</text>
<text x="940.4" y="455">Dec</text>
<text x="1042.6" y="455" font-weight="bold">2025</text>
</g>
<circle cx="1092.3" cy="422.5" r="11.2" fill="#141420" fill-opacity="0.6"/>
<circle cx="1092.3" cy="422.5" r="9.7" fill="#12121e" stroke="#7c5cf6" stroke-width="1.7"/>
<path d="M1092.3 416.6Q1093.2 421.6 1098.1 422.5Q1093.2 423.4 1092.3 428.4Q1091.4 423.4 1086.5 422.5Q1091.4 421.6 1092.3 416.6z" fill="#8465ff"/>
<g fill="#d1d4dc"><path d="M5 476.3h8.8v10h-5.1v-6.3H5z"/><circle cx="16.3" cy="478.3" r="1.7"/><path d="M19.7 476.3H25L22 486.3h-5.5z"/></g>
<text x="28.9" y="486.8" font-size="13.5" fill="#d1d4dc" stroke="#d1d4dc" stroke-width="0.35" textLength="71" lengthAdjust="spacingAndGlyphs">TradingView</text>
</svg></body></html>
